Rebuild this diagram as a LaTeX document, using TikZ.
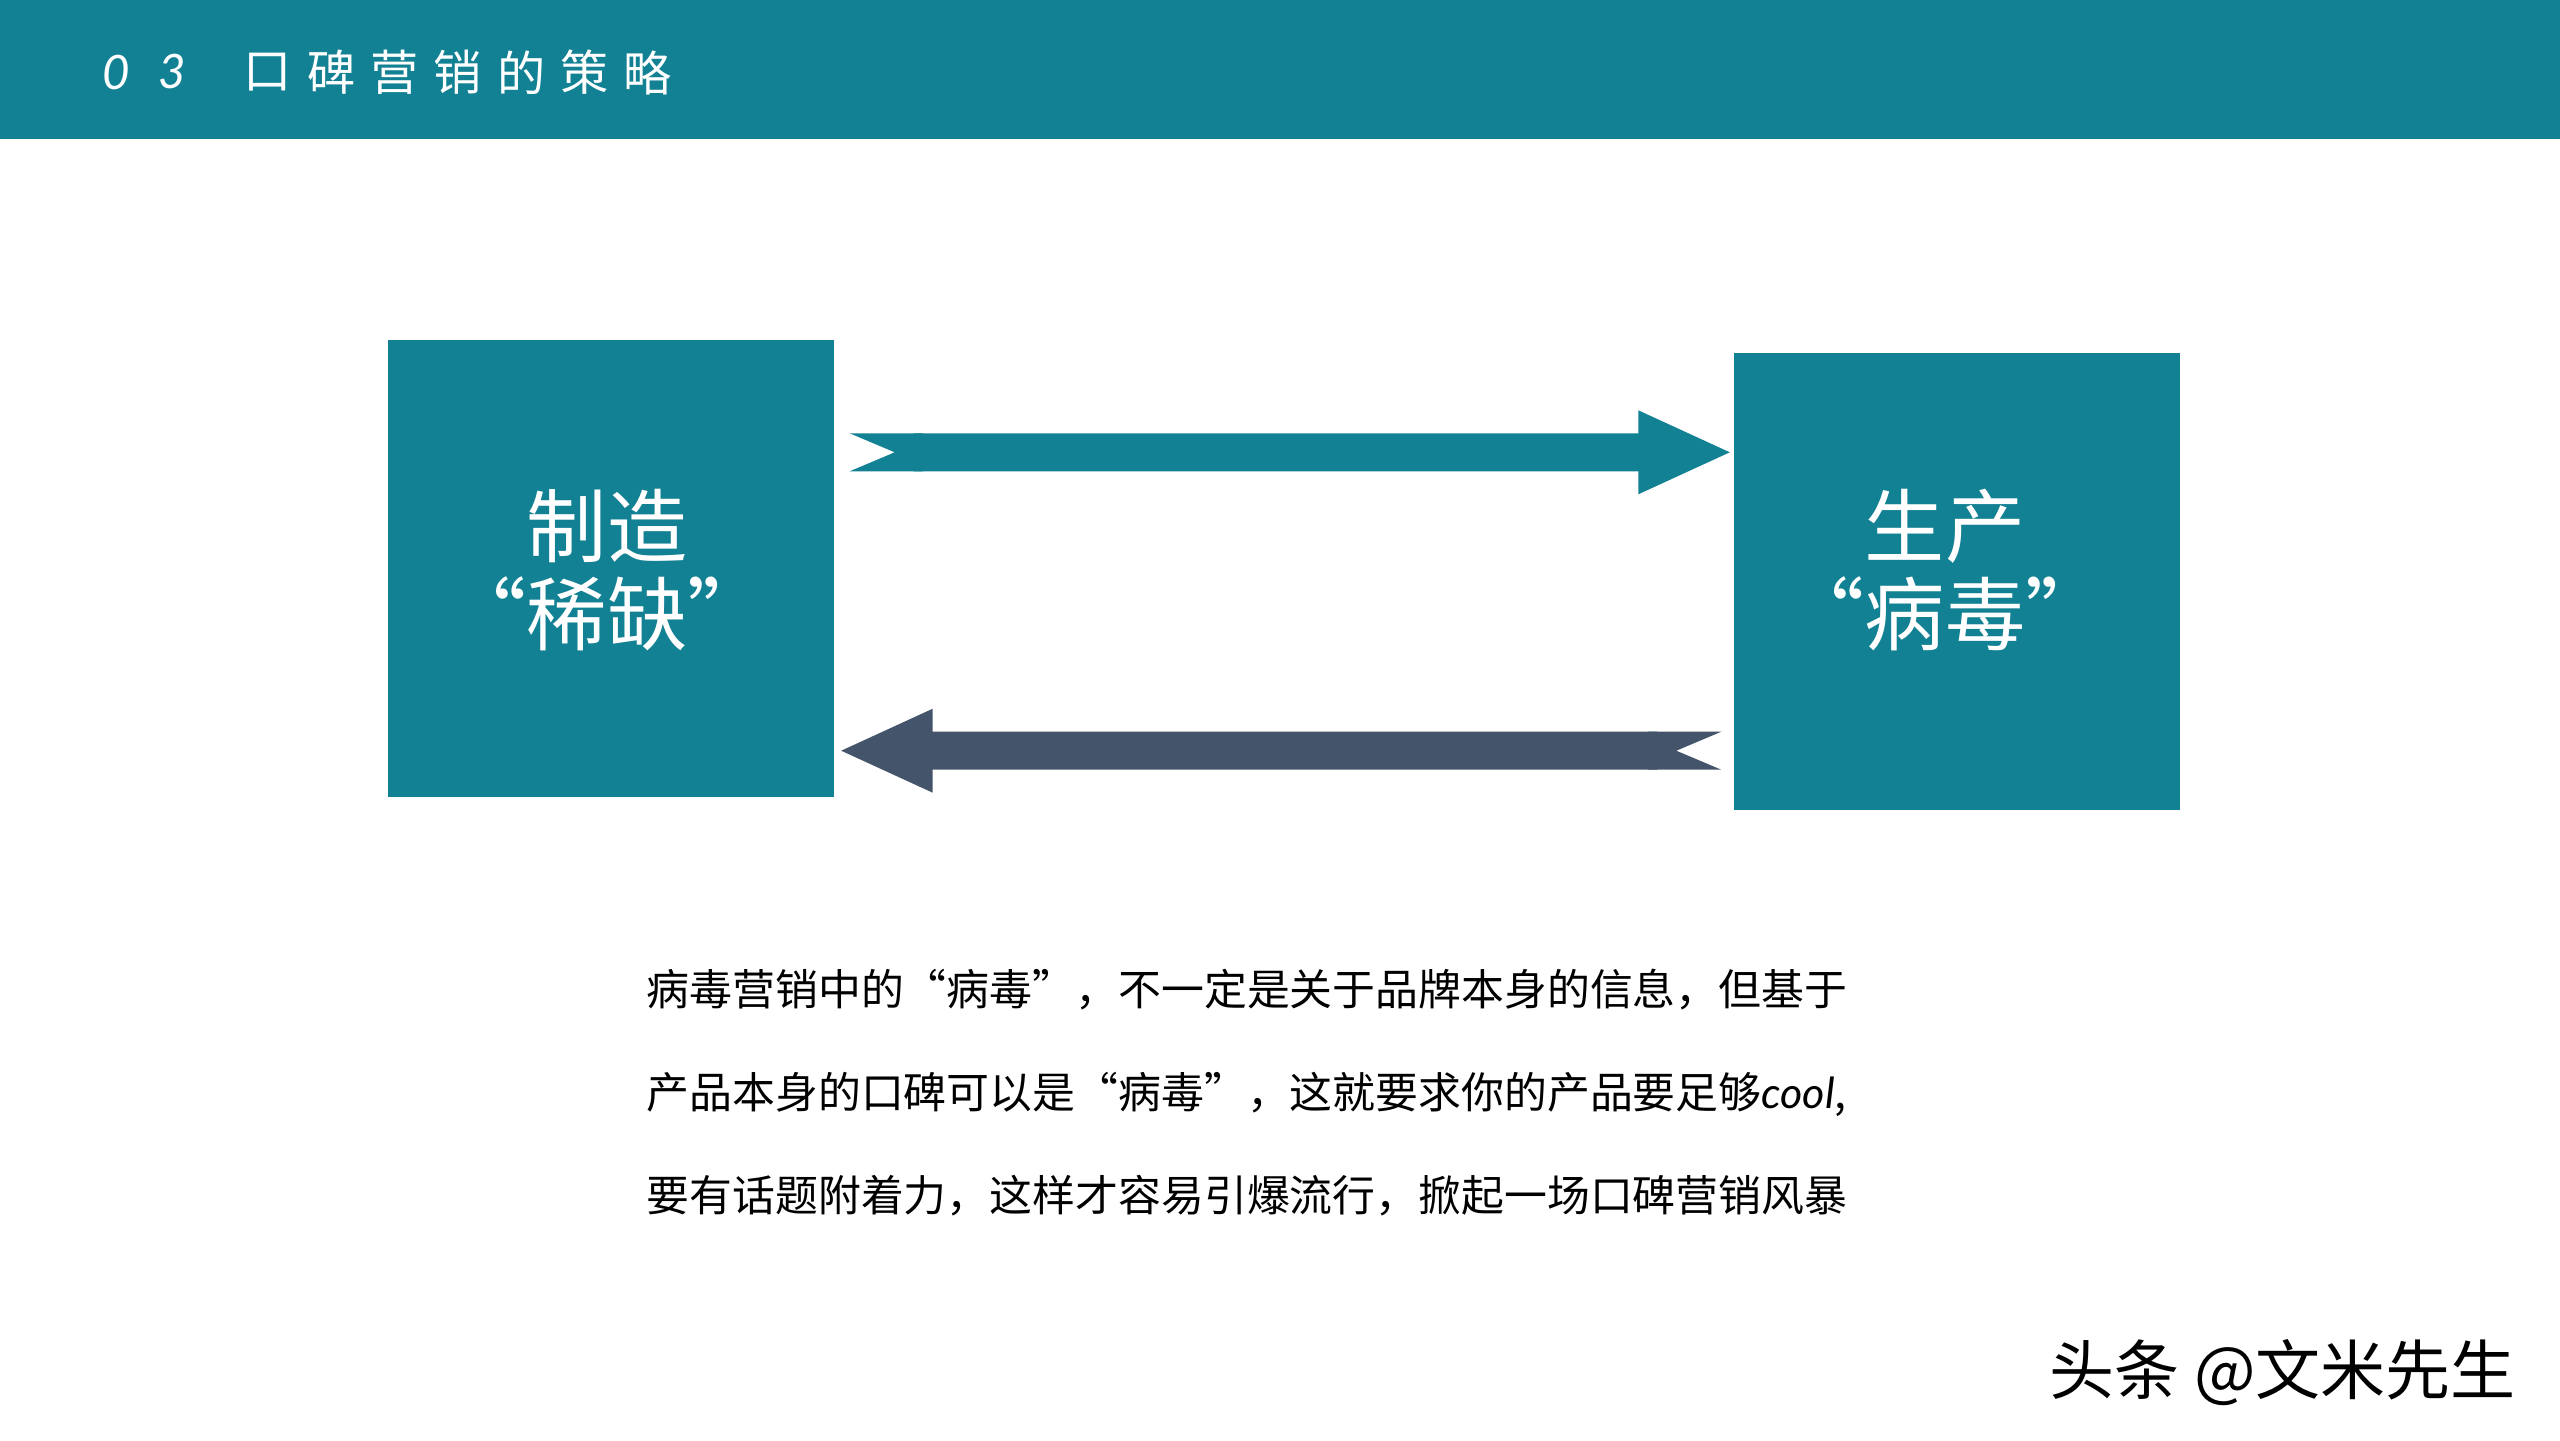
\documentclass[tikz,border=0pt]{standalone}
\usepackage{fontspec}
\setmainfont{Noto Sans CJK SC}
\newfontfamily\latinfont{Lato}
\usetikzlibrary{arrows.meta,positioning}

\definecolor{teal}{RGB}{18,129,147}
\definecolor{slate}{RGB}{68,84,106}

\tikzset{
	box/.style={fill=teal, minimum width=4.46cm, minimum height=4.57cm, inner sep=0pt},
	boxtext/.style={text=white, align=center, font=\fontsize{22.8}{25}\selectfont},
	headtext/.style={text=white, inner sep=0pt, font=\fontsize{13.7}{14}\selectfont},
	fatarrow/.style={line width=0.38cm, {Triangle Cap[reversed,length=0.45cm]}-{Triangle[length=0.95cm,width=0.76cm]}},
}

\begin{document}
\begin{tikzpicture}
	\useasboundingbox (0,0) rectangle (25.6,-14.4);
	\fill[white] (0,0) rectangle (25.6,-14.4);

	% header band
	\fill[teal] (0,0) rectangle (25.6,-1.39);
	\node[headtext, font=\latinfont\itshape\fontsize{13.5}{14}\selectfont] (num0) at (1.16,-0.72) {0};
	\node[headtext, font=\latinfont\itshape\fontsize{13.5}{14}\selectfont] (num3) at (1.72,-0.72) {3};
	\foreach \c [count=\i from 0] in {口,碑,营,销,的,策,略}
		\node[headtext] (head\i) at (2.68+0.633*\i,-0.725) {\c};

	% the two boxes
	\node[box] (lbox) at (6.11,-5.685) {};
	\node[box] (rbox) at (19.57,-5.815) {};
	\node[boxtext] (ltext) at (6.07,-5.70) {制造\\“稀缺”};
	\node[boxtext] (rtext) at (19.45,-5.70) {生产\\“病毒”};

	% arrow ends
	\coordinate (topstart) at ([xshift=0.15cm,yshift=-1.13cm]lbox.north east);
	\coordinate (topend) at ([yshift=-1.0cm]rbox.north west);
	\coordinate (botstart) at ([xshift=-0.12cm,yshift=0.60cm]rbox.south west);
	\coordinate (botend) at ([xshift=0.03cm,yshift=0.47cm]lbox.south east);

	\draw[fatarrow, teal] (topstart) -- (topend);
	\draw[fatarrow, slate] (botstart) -- (botend);

	% text below
	\node[anchor=west, align=left, inner sep=0pt, font=\fontsize{12.2}{29.3}\selectfont] (body) at (6.46,-10.93) {%
		病毒营销中的“病毒”，不一定是关于品牌本身的信息，但基于\\
		产品本身的口碑可以是“病毒”，这就要求你的产品要足够{\latinfont\itshape cool},\\
		要有话题附着力，这样才容易引爆流行，掀起一场口碑营销风暴};

	\node[anchor=west, inner sep=0pt, font=\fontsize{18.5}{20}\selectfont] (mark) at (20.49,-13.73) {头条 @文米先生};
\end{tikzpicture}
\end{document}
